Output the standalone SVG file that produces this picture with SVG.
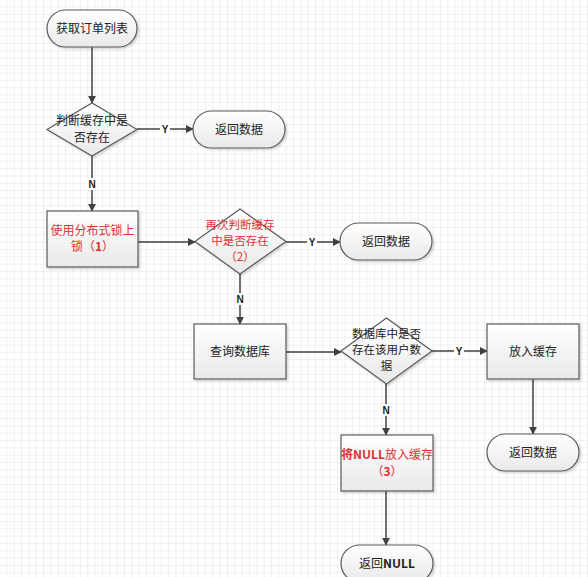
<svg xmlns="http://www.w3.org/2000/svg" width="588" height="577" viewBox="0 0 588 577">
<defs>
<pattern id="grid" width="7.35" height="7.35" patternUnits="userSpaceOnUse">
<path d="M7.35 0V7.35M0 7.35H7.35" fill="none" stroke="#e2e2e2" stroke-width="1"/>
</pattern>
<linearGradient id="fillg" x1="0" y1="0" x2="0" y2="1">
<stop offset="0" stop-color="#ffffff"/>
<stop offset="1" stop-color="#e9e9e9"/>
</linearGradient>
<filter id="sh" x="-10%" y="-10%" width="130%" height="130%">
<feDropShadow dx="1.5" dy="1.5" stdDeviation="1" flood-color="#000" flood-opacity="0.18"/>
</filter>
<marker id="arr" viewBox="0 0 10 10" refX="9" refY="5" markerWidth="8" markerHeight="8" markerUnits="userSpaceOnUse" orient="auto">
<path d="M0 0L10 5L0 10z" fill="#404040"/>
</marker>
</defs>
<style>
.shape{fill:url(#fillg);stroke:#5a5a5a;stroke-width:1.2;filter:url(#sh)}
.t{font-family:"Noto Sans CJK SC","Liberation Sans",sans-serif;font-size:12px;fill:#222;text-anchor:middle}
.s{font-size:11.5px}
.r{fill:#e0302f}
.b{font-weight:bold}
.lbl{font-family:"Liberation Sans",Arial,sans-serif;font-size:10px;font-weight:bold;fill:#222;text-anchor:middle}
.c{fill:none;stroke:#404040;stroke-width:1.5;marker-end:url(#arr)}
.lb{fill:#ffffff}
</style>
<rect width="588" height="577" fill="#ffffff"/>
<rect width="588" height="577" fill="url(#grid)"/>

<g id="connectors">
<path class="c" d="M92 47V103"/>
<path class="c" d="M137 129H193"/>
<path class="c" d="M92 156V211"/>
<path class="c" d="M138 242H195"/>
<path class="c" d="M286 242H340"/>
<path class="c" d="M240 274V324"/>
<path class="c" d="M286 352H341"/>
<path class="c" d="M432 351H487"/>
<path class="c" d="M533 379V434"/>
<path class="c" d="M386 384V435"/>
<path class="c" d="M386 491V545"/>
<rect class="lb" x="160" y="123" width="10" height="12"/>
<text class="lbl" x="165" y="133">Y</text>
<rect class="lb" x="87" y="178" width="10" height="12"/>
<text class="lbl" x="92" y="188">N</text>
<rect class="lb" x="307" y="236" width="10" height="12"/>
<text class="lbl" x="312" y="246">Y</text>
<rect class="lb" x="235" y="293" width="10" height="12"/>
<text class="lbl" x="240" y="303">N</text>
<rect class="lb" x="454" y="345" width="10" height="12"/>
<text class="lbl" x="459" y="355">Y</text>
<rect class="lb" x="381" y="404" width="10" height="12"/>
<text class="lbl" x="386" y="414">N</text>
</g>

<g id="start">
<rect class="shape" x="47" y="10" width="90" height="37" rx="18.5"/>
<text class="t" x="92" y="32.5">获取订单列表</text>
</g>

<g id="check1">
<path class="shape" d="M92 103L137 129.5L92 156L47 129.5Z"/>
<text class="t" x="92" y="124.5">判断缓存中是</text>
<text class="t" x="92" y="141.5">否存在</text>
</g>

<g id="return1">
<rect class="shape" x="193" y="111" width="92" height="37" rx="18.5"/>
<text class="t" x="239" y="133.5">返回数据</text>
</g>

<g id="lock">
<rect class="shape" x="47" y="211" width="91" height="56"/>
<text class="t r" x="92.5" y="234.5">使用分布式锁上</text>
<text class="t r" x="92.5" y="250.5">锁（<tspan class="b">1</tspan>）</text>
</g>

<g id="check2">
<path class="shape" d="M240 209L286 241.5L240 274L195 241.5Z"/>
<text class="t s r" x="240" y="229">再次判断缓存</text>
<text class="t s r" x="240" y="245">中是否存在</text>
<text class="t s r" x="240" y="261">（2）</text>
</g>

<g id="return2">
<rect class="shape" x="340" y="223" width="92" height="37" rx="18.5"/>
<text class="t" x="386" y="245.5">返回数据</text>
</g>

<g id="querydb">
<rect class="shape" x="194" y="324" width="92" height="55"/>
<text class="t" x="240" y="356">查询数据库</text>
</g>

<g id="check3">
<path class="shape" d="M386.5 318L432 351L386.5 384L341 351Z"/>
<text class="t s" x="386.5" y="338">数据库中是否</text>
<text class="t s" x="386.5" y="354">存在该用户数</text>
<text class="t s" x="386.5" y="370">据</text>
</g>

<g id="putcache">
<rect class="shape" x="487" y="324" width="92" height="55"/>
<text class="t" x="533" y="356">放入缓存</text>
</g>

<g id="return3">
<rect class="shape" x="487" y="434" width="92" height="37" rx="18.5"/>
<text class="t" x="533" y="456.5">返回数据</text>
</g>

<g id="putnull">
<rect class="shape" x="341" y="435" width="92" height="56"/>
<text class="t r" x="387" y="459"><tspan class="b">将NULL</tspan>放入缓存</text>
<text class="t r" x="387" y="476">（<tspan class="b">3</tspan>）</text>
</g>

<g id="returnnull">
<rect class="shape" x="341" y="545" width="92" height="37" rx="18.5"/>
<text class="t" x="387" y="567.5">返回<tspan class="b">NULL</tspan></text>
</g>
</svg>
